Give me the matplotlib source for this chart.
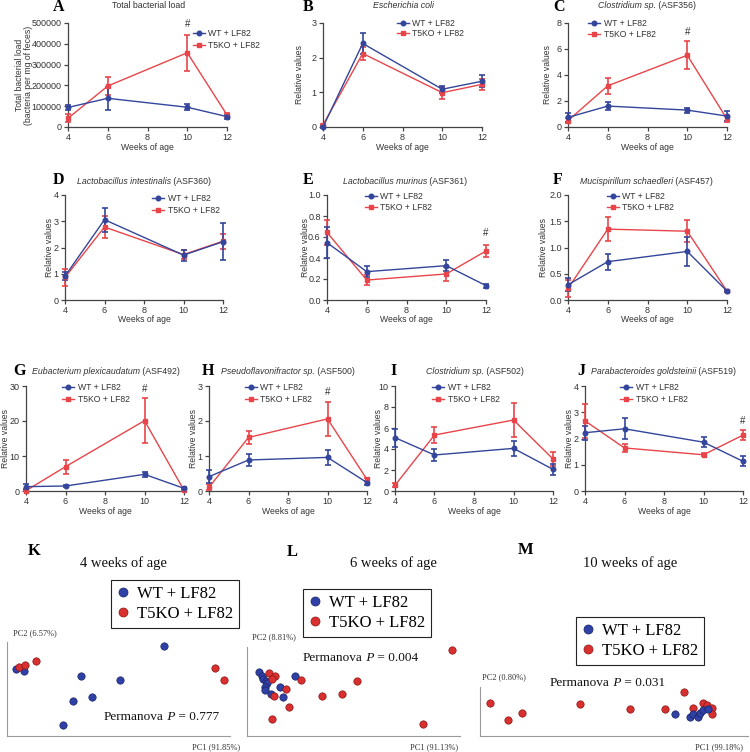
import matplotlib
matplotlib.use("Agg")
import matplotlib.pyplot as plt
from matplotlib.lines import Line2D
from matplotlib.ticker import FormatStrFormatter

plt.rcParams['font.family'] = ['Liberation Sans', 'DejaVu Sans']

W, H = 750, 752
weeks = [4, 6, 10, 12]

# A - total bacterial load
wt_a = [94000, 138000, 95000, 50000]
wt_a_err = [14000, 56000, 14000, 10000]
ko_a = [42000, 197000, 357000, 58000]
ko_a_err = [19000, 43000, 87000, 8000]
# B - E. coli
wt_b = [0.0, 2.41, 1.09, 1.32]
wt_b_err = [0.02, 0.29, 0.10, 0.17]
ko_b = [0.06, 2.12, 0.99, 1.23]
ko_b_err = [0.03, 0.19, 0.17, 0.15]
# C - ASF356
wt_c = [0.74, 1.61, 1.30, 0.84]
wt_c_err = [0.35, 0.32, 0.20, 0.38]
ko_c = [0.49, 3.17, 5.52, 0.61]
ko_c_err = [0.20, 0.60, 1.06, 0.20]
# D - ASF360
wt_d = [0.91, 3.06, 1.71, 2.22]
wt_d_err = [0.16, 0.46, 0.21, 0.70]
ko_d = [0.86, 2.78, 1.73, 2.24]
ko_d_err = [0.32, 0.42, 0.18, 0.28]
# E - ASF361
wt_e = [0.546, 0.27, 0.327, 0.137]
wt_e_err = [0.15, 0.05, 0.053, 0.02]
ko_e = [0.644, 0.19, 0.248, 0.467]
ko_e_err = [0.12, 0.045, 0.07, 0.06]
# F - ASF457
wt_f = [0.29, 0.73, 0.925, 0.17]
wt_f_err = [0.12, 0.15, 0.28, 0.02]
ko_f = [0.22, 1.35, 1.31, 0.17]
ko_f_err = [0.17, 0.23, 0.21, 0.02]
# G - ASF492
wt_g = [1.24, 1.43, 4.76, 0.76]
wt_g_err = [0.7, 0.3, 0.75, 0.3]
ko_g = [0.1, 6.95, 20.1, 0.2]
ko_g_err = [0.2, 2.0, 6.5, 0.2]
# H - ASF500
wt_h = [0.41, 0.886, 0.96, 0.24]
wt_h_err = [0.18, 0.17, 0.21, 0.06]
ko_h = [0.105, 1.53, 2.06, 0.33]
ko_h_err = [0.09, 0.19, 0.48, 0.04]
# I - ASF502
wt_i = [5.08, 3.43, 4.06, 2.06]
wt_i_err = [0.87, 0.56, 0.70, 0.50]
ko_i = [0.54, 5.33, 6.76, 3.05]
ko_i_err = [0.2, 0.75, 1.62, 0.71]
# J - ASF519
wt_j = [2.22, 2.37, 1.86, 1.13]
wt_j_err = [0.26, 0.40, 0.18, 0.19]
ko_j = [2.67, 1.64, 1.38, 2.13]
ko_j_err = [0.66, 0.16, 0.06, 0.19]

# PCA scores (arbitrary units)
k_wt_pc1 = [4.0, 7.6, 70.4, 33.2, 50.7, 29.6, 38.1, 25.1]
k_wt_pc2 = [71.3, 69.1, 95.7, 63.8, 59.6, 37.2, 41.5, 11.7]
k_ko_pc1 = [5.4, 8.1, 13.0, 93.3, 97.3]
k_ko_pc2 = [73.4, 75.5, 79.8, 72.3, 59.6]

l_wt_pc1 = [5.5, 6.9, 7.7, 8.8, 9.2, 8.5, 8.5, 11.1, 15.5, 16.8, 22.5]
l_wt_pc2 = [72.2, 67.4, 63.7, 62.1, 59.2, 54.7, 51.7, 47.2, 55.4, 44.2, 67.4]
l_ko_pc1 = [10.5, 13.1, 11.6, 18.2, 12.8, 19.7, 11.7, 25.4, 35.4, 44.5, 51.5, 96.2, 82.5]
l_ko_pc2 = [71.1, 67.8, 63.7, 52.8, 44.9, 32.2, 18.8, 62.9, 45.3, 46.9, 62.1, 96.6, 13.8]

m_wt_pc1 = [72.8, 78.4, 79.6, 81.5, 82.1, 83.3, 85.1]
m_wt_pc2 = [44.9, 38.2, 44.9, 39.4, 46.3, 53.1, 54.5]
m_ko_pc1 = [3.7, 10.6, 15.6, 37.4, 56.1, 69.0, 76.2, 79.6, 83.1, 84.6, 86.5, 86.7]
m_ko_pc2 = [66.7, 32.7, 46.3, 64.7, 55.1, 55.1, 89.1, 56.5, 68.0, 63.3, 56.5, 44.9]

labels = ['WT + LF82', 'T5KO + LF82']
blue = '#34469B'
red = '#E8454A'
txt = '#333333'
serif = ['Liberation Serif', 'DejaVu Serif']

fig = plt.figure(figsize=(W / 100, H / 100), dpi=100)
bg = fig.add_axes([0, 0, 1, 1], zorder=-1)
bg.set_xlim(0, W)
bg.set_ylim(H, 0)
bg.axis('off')


def px_box(x0, y0, x1, y1):
    return [x0 / W, 1 - y1 / H, (x1 - x0) / W, (y1 - y0) / H]


def chain_text(x, y, parts, **kw):
    # parts: list of (string, style) written one after the other
    t = bg.text(x, y, parts[0][0], style=parts[0][1], ha='left', va='center', **kw)
    for s, st in parts[1:]:
        t = bg.annotate(s, xy=(1, 0), xycoords=t, ha='left', va='bottom', style=st, **kw)
    return t


def line_panel(box, wt, wt_err, ko, ko_err, ytop, ystep, fmt, ylab_dx, leg, leg_space,
               letter, title, hash_pt=None, ylabel='Relative values'):
    ax = fig.add_axes(px_box(*box))
    for m, e, c, mk in [(ko, ko_err, red, 's'), (wt, wt_err, blue, 'o')]:
        eb = ax.errorbar(weeks, m, yerr=e, color=c, marker=mk, ms=3.3, lw=1.0,
                         elinewidth=1.2, capsize=2.0, capthick=1.2, zorder=3)
        for art in eb.get_children():
            art.set_clip_on(False)
    ax.set_xlim(4, 12)
    ax.set_ylim(0, ytop)
    ax.set_xticks([4, 6, 8, 10, 12])
    n = int(round(ytop / ystep))
    ax.set_yticks([ystep * k for k in range(n + 1)])
    ax.yaxis.set_major_formatter(FormatStrFormatter(fmt))
    ax.spines[['top', 'right']].set_visible(False)
    for s in ['left', 'bottom']:
        ax.spines[s].set_color('#444444')
        ax.spines[s].set_linewidth(0.9)
    ax.tick_params(direction='out', length=3, width=0.9, color='#444444',
                   labelsize=6.5, labelcolor=txt, pad=1.5)
    w = box[2] - box[0]
    h = box[3] - box[1]
    ax.set_ylabel(ylabel, fontsize=6.2, color=txt, linespacing=1.0)
    ax.yaxis.set_label_coords(-ylab_dx / w, 0.5)
    ax.yaxis.label.set_va('center')
    ax.set_xlabel('Weeks of age', fontsize=6.2, color=txt)
    ax.xaxis.set_label_coords(0.5, -20 / h)
    ax.xaxis.label.set_va('center')
    handles = [Line2D([], [], color=blue, marker='o', ms=3.3, lw=1.0),
               Line2D([], [], color=red, marker='s', ms=3.3, lw=1.0)]
    ax.legend(handles, labels, loc='upper left', bbox_to_anchor=(leg[0], leg[1] - 5),
              bbox_transform=bg.transData, frameon=False, fontsize=6.2,
              handlelength=1.35, handletextpad=0.45, borderpad=0, borderaxespad=0,
              labelspacing=leg_space, labelcolor=txt)
    if hash_pt is not None:
        ax.text(hash_pt[0], hash_pt[1], '#', ha='center', va='center', fontsize=7, color=txt)
    bg.text(letter[1], letter[2], letter[0], family=serif, weight='bold', fontsize=11.5,
            ha='left', va='center', color='black')
    chain_text(title[0], title[1], title[2], fontsize=6.3, color=txt)
    return ax


ax_a = line_panel((68, 23, 227, 127), wt_a, wt_a_err, ko_a, ko_a_err, 500000, 100000, '%d', 44,
                  (193, 34), 0.4, ('A', 53, 7), (112, 6, [('Total bacterial load', 'normal')]),
                  hash_pt=(10, 495000),
                  ylabel='Total bacterial load\n(bacteria per mg of feces)')
line_panel((323, 23, 482, 127), wt_b, wt_b_err, ko_b, ko_b_err, 3, 1, '%d', 24,
           (397, 24), 0.15, ('B', 303, 7), (373, 6, [('Escherichia coli', 'italic')]))
line_panel((568, 23, 727, 127), wt_c, wt_c_err, ko_c, ko_c_err, 8, 2, '%d', 20,
           (588, 24), 0.2, ('C', 553, 7), (598, 6, [('Clostridium sp.', 'italic'), (' (ASF356)', 'normal')]),
           hash_pt=(10, 7.3))
line_panel((65, 195, 223, 300), wt_d, wt_d_err, ko_d, ko_d_err, 4, 1, '%d', 16,
           (152, 199), 0.4, ('D', 53, 180),
           (77, 181, [('Lactobacillus intestinalis', 'italic'), (' (ASF360)', 'normal')]))
line_panel((327, 195, 486, 300), wt_e, wt_e_err, ko_e, ko_e_err, 1.0, 0.2, '%.1f', 22,
           (365, 197), 0.2, ('E', 303, 180),
           (343, 181, [('Lactobacillus murinus', 'italic'), (' (ASF361)', 'normal')]),
           hash_pt=(12, 0.635))
line_panel((568, 195, 727, 300), wt_f, wt_f_err, ko_f, ko_f_err, 2.0, 0.5, '%.1f', 25,
           (607, 197), 0.2, ('F', 553, 180),
           (580, 181, [('Mucispirillum schaedleri', 'italic'), (' (ASF457)', 'normal')]))
line_panel((26, 386, 184, 491), wt_g, wt_g_err, ko_g, ko_g_err, 30, 10, '%d', 20,
           (62, 388), 0.3, ('G', 13, 371),
           (32, 371, [('Eubacterium plexicaudatum', 'italic'), (' (ASF492)', 'normal')]),
           hash_pt=(10, 29.1))
line_panel((209, 386, 367, 491), wt_h, wt_h_err, ko_h, ko_h_err, 3, 1, '%d', 15.5,
           (245, 388), 0.3, ('H', 202, 371),
           (221, 371, [('Pseudoflavonifractor sp.', 'italic'), (' (ASF500)', 'normal')]),
           hash_pt=(10, 2.83))
line_panel((395, 386, 553, 491), wt_i, wt_i_err, ko_i, ko_i_err, 10, 2, '%d', 16,
           (432, 388), 0.3, ('I', 390, 371),
           (426, 371, [('Clostridium sp.', 'italic'), (' (ASF502)', 'normal')]))
line_panel((585, 386, 743, 491), wt_j, wt_j_err, ko_j, ko_j_err, 4, 1, '%d', 16,
           (620, 388), 0.3, ('J', 577, 371),
           (591, 371, [('Parabacteroides goldsteinii', 'italic'), (' (ASF519)', 'normal')]),
           hash_pt=(12, 2.67))


def pca_panel(box, wt1, wt2, ko1, ko2, letter, title, leg_xy, pc2, pc1, perm, wt_on_top):
    ax = fig.add_axes(px_box(*box))
    zw, zk = (4, 3) if wt_on_top else (3, 4)
    ax.scatter(ko1, ko2, s=28, color='#D8302F', edgecolors='#8A1515', linewidths=0.5,
               zorder=zk, clip_on=False)
    ax.scatter(wt1, wt2, s=28, color='#2F40A6', edgecolors='#1A2462', linewidths=0.5,
               zorder=zw, clip_on=False)
    ax.set_xlim(0, 100)
    ax.set_ylim(0, 100)
    ax.set_xticks([])
    ax.set_yticks([])
    ax.patch.set_alpha(0)
    ax.spines[['top', 'right']].set_visible(False)
    for s in ['left', 'bottom']:
        ax.spines[s].set_color('#9a9a9a')
        ax.spines[s].set_linewidth(0.8)
    handles = [Line2D([], [], ls='none', marker='o', ms=6.5, color='#2F40A6', mec='#1A2462', mew=0.5),
               Line2D([], [], ls='none', marker='o', ms=6.5, color='#D8302F', mec='#8A1515', mew=0.5)]
    lg = ax.legend(handles, labels, loc='upper left', bbox_to_anchor=leg_xy,
                   bbox_transform=bg.transData, prop={'family': serif, 'size': 12},
                   fancybox=False, edgecolor='#222222', framealpha=1, borderpad=0.35,
                   borderaxespad=0, handlelength=0.7, handletextpad=0.5, labelspacing=0.25)
    lg.get_frame().set_linewidth(0.8)
    bg.text(letter[1], letter[2], letter[0], family=serif, weight='bold', fontsize=12,
            ha='left', va='center', color='black')
    bg.text(title[1], title[2], title[0], family=serif, fontsize=10.5, ha='left', va='center',
            color='#111111')
    bg.text(pc2[1], pc2[2], pc2[0], family=serif, fontsize=6, ha='left', va='center', color='#333333')
    bg.text(pc1[1], pc1[2], pc1[0], family=serif, fontsize=6, ha='left', va='center', color='#333333')
    chain_text(perm[1], perm[2], [('Permanova', 'normal'), (' P', 'italic'), (' = ' + perm[0], 'normal')],
               family=serif, fontsize=9.5, color='#111111')


pca_panel((7, 642, 230, 736), k_wt_pc1, k_wt_pc2, k_ko_pc1, k_ko_pc2,
          ('K', 28, 551), ('4 weeks of age', 80, 563), (111, 580),
          ('PC2 (6.57%)', 13, 633), ('PC1 (91.85%)', 192, 747), ('0.777', 104, 717), False)
pca_panel((247, 647, 460, 736), l_wt_pc1, l_wt_pc2, l_ko_pc1, l_ko_pc2,
          ('L', 287, 552), ('6 weeks of age', 350, 563), (303, 589),
          ('PC2 (8.81%)', 252, 637), ('PC1 (91.13%)', 410, 747), ('0.004', 303, 658), False)
pca_panel((480, 687, 748, 736), m_wt_pc1, m_wt_pc2, m_ko_pc1, m_ko_pc2,
          ('M', 518, 550), ('10 weeks of age', 583, 563), (576, 617),
          ('PC2 (0.80%)', 482, 677), ('PC1 (99.18%)', 695, 747), ('0.031', 550, 683), True)

fig.savefig('out.png', dpi=100)
